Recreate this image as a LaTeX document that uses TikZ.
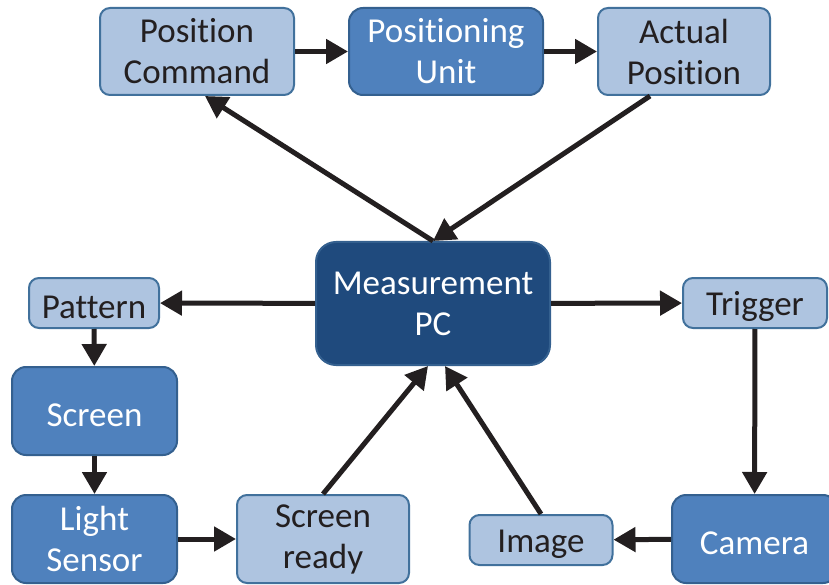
\documentclass[tikz,border=0pt]{standalone}
\usepackage{fontspec}
\setmainfont[Ligatures=NoCommon]{Carlito}
\usetikzlibrary{arrows.meta}

\definecolor{boxlight}{HTML}{AEC4E0}
\definecolor{boxmid}{HTML}{4F81BD}
\definecolor{boxdark}{HTML}{1F4A7D}
\definecolor{rimlight}{HTML}{41719C}
\definecolor{rimdark}{HTML}{34608F}
\definecolor{inkdark}{HTML}{231F20}

\begin{document}
\begin{tikzpicture}[x=1pt,y=-1pt,
  every node/.style={align=center,inner sep=0pt,line width=2pt,
    font=\fontsize{35}{41}\selectfont,
    execute at begin node={\rule{0pt}{31pt}}},
  lightbox/.style={draw=rimlight,fill=boxlight,text=inkdark,rounded corners=10pt},
  midbox/.style={draw=rimdark,fill=boxmid,text=white,rounded corners=14pt},
  darkbox/.style={draw=rimdark,fill=boxdark,text=white,rounded corners=20pt},
  flow/.style={draw=inkdark,line width=5pt,-{Triangle[length=22pt,width=24pt]}}]
  \useasboundingbox (0,0) rectangle (829,585);

  % positioning chain along the top
  \node[lightbox,minimum width=194pt,minimum height=87pt] (pcmd) at (197,51.5) {Position\\Command};
  \node[midbox,minimum width=194pt,minimum height=87pt] (punit) at (446,51.5) {Positioning\\Unit};
  \node[lightbox,minimum width=172pt,minimum height=87pt] (apos) at (684,51.5) {Actual\\Position};

  % the controlling computer
  \node[darkbox,minimum width=234pt,minimum height=123pt] (pc) at (433,303.5) {Measurement\\PC};

  % screen side
  \node[lightbox,minimum width=130pt,minimum height=50pt] (pattern) at (94,303) {Pattern};
  \node[midbox,minimum width=165pt,minimum height=88pt] (screen) at (94.5,411) {Screen};
  \node[midbox,minimum width=165pt,minimum height=88pt] (lsensor) at (94.5,539) {Light\\Sensor};
  \node[lightbox,minimum width=172pt,minimum height=88pt] (sready) at (323,539) {Screen\\ready};

  % camera side
  \node[lightbox,minimum width=144pt,minimum height=50pt] (trigger) at (755,303) {Trigger};
  \node[midbox,minimum width=165pt,minimum height=88pt] (camera) at (754.5,539) {Camera};
  \node[lightbox,minimum width=143pt,minimum height=50pt] (image) at (541,540) {Image};

  \draw[flow] (pcmd) -- (punit);
  \draw[flow] (punit) -- (apos);
  \draw[flow] (pc.north) -- ([xshift=8pt]pcmd.south);
  \draw[flow] ([xshift=-34pt]apos.south) -- (pc.north);

  \draw[flow] (pc) -- (pattern);
  \draw[flow] (pattern) -- (screen);
  \draw[flow] (screen) -- (lsensor);
  \draw[flow] (lsensor) -- (sready);
  \draw[flow] (sready.north) -- ([xshift=-5pt]pc.south);

  \draw[flow] (pc) -- (trigger);
  \draw[flow] (trigger) -- (camera);
  \draw[flow] (camera) -- (image);
  \draw[flow] (image.north) -- ([xshift=12pt]pc.south);
\end{tikzpicture}
\end{document}
